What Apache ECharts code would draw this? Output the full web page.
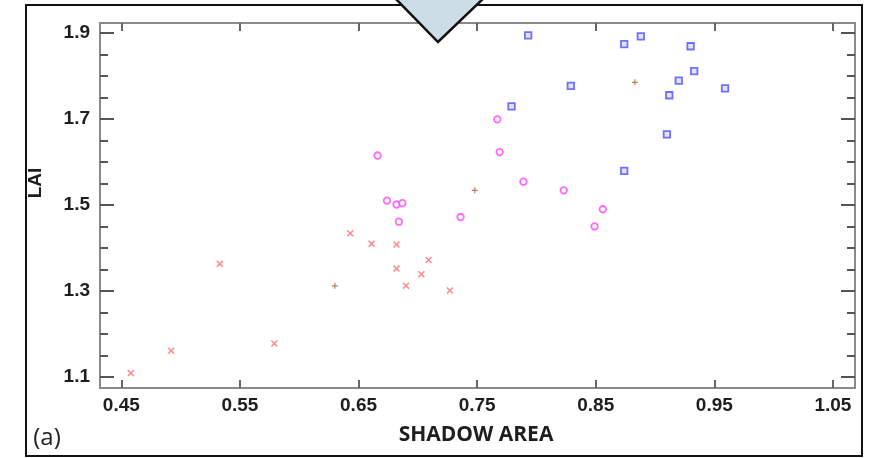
<!DOCTYPE html>
<html>
<head>
<meta charset="utf-8">
<title>LAI vs shadow area</title>
<script src="https://cdn.jsdelivr.net/npm/echarts@6/dist/echarts.min.js"></script>
<style>
  html, body { margin: 0; padding: 0; background: #fff; }
  #chart { width: 871px; height: 458px; }
</style>
</head>
<body>
<div id="chart"></div>
<script>
// axis ranges and ticks
const xRange = [0.432, 1.0686];
const yRange = [1.0744, 1.923];
const xTicks = [0.45, 0.55, 0.65, 0.75, 0.85, 0.95, 1.05];
const yTicks = [1.1, 1.3, 1.5, 1.7, 1.9];
const yMinorTicks = [1.15, 1.2, 1.25, 1.35, 1.4, 1.45, 1.55, 1.6, 1.65, 1.75, 1.8, 1.85];

// [shadow area, LAI]
const crossPts = [
  [0.458, 1.109], [0.492, 1.161], [0.533, 1.363], [0.579, 1.178],
  [0.643, 1.434], [0.661, 1.410], [0.682, 1.408], [0.709, 1.372],
  [0.682, 1.352], [0.703, 1.339], [0.690, 1.312], [0.727, 1.301]
];
const circlePts = [
  [0.666, 1.615], [0.674, 1.510], [0.682, 1.501], [0.687, 1.504],
  [0.684, 1.461], [0.736, 1.472], [0.767, 1.699], [0.769, 1.623],
  [0.789, 1.554], [0.823, 1.534], [0.856, 1.490], [0.849, 1.450]
];
const squarePts = [
  [0.793, 1.894], [0.874, 1.874], [0.888, 1.892], [0.930, 1.869],
  [0.933, 1.811], [0.920, 1.789], [0.912, 1.755], [0.959, 1.771],
  [0.829, 1.777], [0.779, 1.729], [0.910, 1.664], [0.874, 1.579]
];
const plusPts = [
  [0.630, 1.312], [0.748, 1.534], [0.883, 1.785]
];

const chart = echarts.init(document.getElementById('chart'));

const labelFont = {
  fontFamily: 'Liberation Sans, Arial, sans-serif',
  fontWeight: 'bold',
  fontSize: 19,
  color: '#1e1e1e'
};

function xAxisDef(pos, showLabel) {
  return {
    type: 'value',
    position: pos,
    min: xRange[0],
    max: xRange[1],
    axisLine: { show: true, onZero: false, lineStyle: { color: '#8a8a8a', width: 2 } },
    axisTick: { show: true, inside: true, length: 8, customValues: xTicks,
      lineStyle: { color: '#666', width: 2 } },
    axisLabel: Object.assign({ show: showLabel, margin: 8, customValues: xTicks,
      formatter: v => v.toFixed(2) }, labelFont),
    splitLine: { show: false }
  };
}

function yAxisDef(pos, ticks, len, showLabel) {
  return {
    type: 'value',
    position: pos,
    min: yRange[0],
    max: yRange[1],
    axisLine: { show: true, onZero: false, lineStyle: { color: '#8a8a8a', width: 2 } },
    axisTick: { show: true, inside: true, length: len, customValues: ticks,
      lineStyle: { color: '#555', width: 2 } },
    axisLabel: Object.assign({ show: showLabel, margin: 10, customValues: ticks,
      formatter: v => v.toFixed(1) }, labelFont),
    splitLine: { show: false }
  };
}

const crossPath = 'path://M0,1.5 L1.5,0 L5,3.5 L8.5,0 L10,1.5 L6.5,5 L10,8.5 L8.5,10 L5,6.5 L1.5,10 L0,8.5 L3.5,5 Z';
const plusPath = 'path://M4,0 H6 V4 H10 V6 H6 V10 H4 V6 H0 V4 H4 Z';

chart.setOption({
  animation: false,
  grid: { left: 100, right: 16, top: 23, bottom: 70 },
  xAxis: [xAxisDef('bottom', true), xAxisDef('top', false)],
  yAxis: [
    yAxisDef('left', yTicks, 14, true),
    yAxisDef('left', yMinorTicks, 8, false),
    yAxisDef('right', yTicks, 14, false),
    yAxisDef('right', yMinorTicks, 8, false)
  ],
  series: [
    {
      name: 'cross',
      type: 'scatter',
      data: crossPts,
      symbol: crossPath,
      symbolSize: 7,
      itemStyle: { color: '#ff6b6b' }
    },
    {
      name: 'circle',
      type: 'scatter',
      data: circlePts,
      symbol: 'circle',
      symbolSize: 6.5,
      itemStyle: { color: '#fff', borderColor: '#ff44ff', borderWidth: 1.8 }
    },
    {
      name: 'square',
      type: 'scatter',
      data: squarePts,
      symbol: 'rect',
      symbolSize: 6.5,
      itemStyle: { color: '#dcdcff', borderColor: '#5050ff', borderWidth: 1.8 }
    },
    {
      name: 'plus',
      type: 'scatter',
      data: plusPts,
      symbol: plusPath,
      symbolSize: 6,
      itemStyle: { color: '#a0603a' }
    }
  ],
  graphic: [
    {
      type: 'rect',
      shape: { x: 26, y: 5, width: 836, height: 451 },
      style: { fill: 'none', stroke: '#111', lineWidth: 2 },
      z: 10
    },
    {
      type: 'polygon',
      shape: { points: [[392, -5], [487, -5], [438, 42]] },
      style: { fill: '#cddde5', stroke: '#111', lineWidth: 2.5 },
      z: 11
    },
    {
      type: 'text',
      x: 476, y: 435,
      style: { text: 'SHADOW AREA', fontFamily: 'Open Sans, sans-serif', fontWeight: 'bold',
        fontSize: 21, fill: '#1e1e1e', align: 'center', verticalAlign: 'middle' }
    },
    {
      type: 'text',
      x: 36, y: 183,
      rotation: Math.PI / 2,
      style: { text: 'LAI', fontFamily: 'Liberation Sans, Arial, sans-serif', fontWeight: 'bold',
        fontSize: 19, fill: '#1e1e1e', align: 'center', verticalAlign: 'middle' }
    },
    {
      type: 'text',
      x: 47, y: 438,
      style: { text: '(a)', fontFamily: 'Open Sans, sans-serif',
        fontSize: 24, fill: '#222', align: 'center', verticalAlign: 'middle' }
    }
  ]
});
</script>
</body>
</html>
